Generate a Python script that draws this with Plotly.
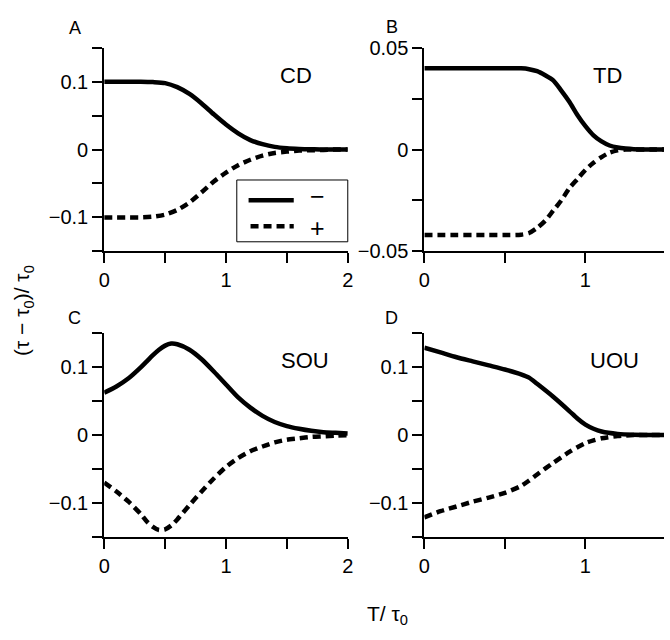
import plotly.graph_objects as go

# ---------------- data ----------------
# Panel A (CD)
x_cd = [0, 0.1, 0.2, 0.3, 0.4, 0.5, 0.6, 0.7, 0.8, 0.9, 1.0, 1.1, 1.2, 1.3, 1.4, 1.5, 1.6, 1.7, 1.8, 1.9, 2.0]
cd_minus = [0.100, 0.100, 0.100, 0.100, 0.0995, 0.098, 0.092, 0.082, 0.068, 0.052, 0.037, 0.024, 0.014,
            0.008, 0.004, 0.002, 0.001, 0.0005, 0.0, 0.0, 0.0]
cd_plus = [-0.100, -0.100, -0.100, -0.100, -0.099, -0.096, -0.089, -0.078, -0.063, -0.047, -0.034, -0.023,
           -0.015, -0.009, -0.005, -0.003, -0.0015, -0.001, -0.0005, 0.0, 0.0]

# Panel B (TD)
x_td = [0, 0.1, 0.2, 0.3, 0.4, 0.5, 0.6, 0.65, 0.7, 0.75, 0.8, 0.85, 0.9, 0.95, 1.0, 1.05, 1.1, 1.15,
        1.2, 1.25, 1.3, 1.4, 1.49]
td_minus = [0.040, 0.040, 0.040, 0.040, 0.040, 0.040, 0.0399, 0.0395, 0.0385, 0.0365, 0.034, 0.029, 0.0235,
            0.017, 0.0115, 0.007, 0.004, 0.002, 0.001, 0.0005, 0.0002, 0.0, 0.0]
td_plus = [-0.042, -0.042, -0.042, -0.042, -0.042, -0.042, -0.0418, -0.041, -0.0385, -0.035, -0.030, -0.025,
           -0.019, -0.0145, -0.010, -0.0065, -0.0037, -0.0015, -0.0004, 0.0, 0.0, 0.0, 0.0]

# Panel C (SOU)
x_sou = [0, 0.1, 0.2, 0.3, 0.35, 0.4, 0.45, 0.5, 0.55, 0.6, 0.7, 0.8, 0.9, 1.0, 1.1, 1.2, 1.3, 1.4, 1.5,
         1.6, 1.7, 1.8, 1.9, 2.0]
sou_minus = [0.062, 0.071, 0.083, 0.099, 0.108, 0.117, 0.125, 0.131, 0.134, 0.133, 0.125, 0.111, 0.093,
             0.074, 0.055, 0.040, 0.028, 0.019, 0.013, 0.009, 0.006, 0.004, 0.003, 0.002]
sou_plus = [-0.070, -0.083, -0.098, -0.116, -0.127, -0.135, -0.1395, -0.1385, -0.133, -0.124, -0.103,
            -0.083, -0.064, -0.047, -0.034, -0.024, -0.017, -0.011, -0.007, -0.005, -0.003, -0.002,
            -0.001, -0.0005]

# Panel D (UOU)
x_uou = [0, 0.1, 0.2, 0.3, 0.4, 0.5, 0.6, 0.65, 0.7, 0.8, 0.9, 0.95, 1.0, 1.05, 1.1, 1.2, 1.3, 1.4, 1.49]
uou_minus = [0.128, 0.121, 0.114, 0.108, 0.102, 0.096, 0.089, 0.084, 0.075, 0.056, 0.035, 0.024, 0.015,
             0.009, 0.005, 0.0015, 0.0003, 0.0, 0.0]
uou_plus = [-0.121, -0.112, -0.105, -0.098, -0.092, -0.085, -0.075, -0.067, -0.058, -0.041, -0.025, -0.018,
            -0.012, -0.008, -0.005, -0.0015, -0.0003, 0.0, 0.0]

panel_names = ["CD", "TD", "SOU", "UOU"]
panel_letters = ["A", "B", "C", "D"]
legend_names = ["\u2212", "+"]

# ticks (labelled majors, unlabelled minors)
xt_long_major = [0, 1, 2]
xt_long_minor = [0.5, 1.5]
xt_short_major = [0, 1]
xt_short_minor = [0.5]
yt_big_major = [-0.1, 0, 0.1]
yt_big_text = ["\u22120.1", "0", "0.1"]
yt_big_minor = [-0.15, -0.05, 0.05, 0.15]
yt_small_major = [-0.05, 0, 0.05]
yt_small_text = ["\u22120.05", "0", "0.05"]
yt_small_minor = [-0.025, 0.025]

# ---------------- figure ----------------
FONT = "Liberation Sans, Arial, Helvetica, sans-serif"
W, H = 670, 640
LW = 4.5
DASH = "8px,5px"

fig = go.Figure()

series = [
    (x_cd, cd_minus, cd_plus, "x", "y"),
    (x_td, td_minus, td_plus, "x2", "y2"),
    (x_sou, sou_minus, sou_plus, "x3", "y3"),
    (x_uou, uou_minus, uou_plus, "x4", "y4"),
]
for i, (xs, ym, yp, xa, ya) in enumerate(series):
    fig.add_trace(go.Scatter(x=xs, y=ym, mode="lines", xaxis=xa, yaxis=ya,
                             line=dict(color="black", width=LW, shape="spline", smoothing=0.7),
                             name=legend_names[0], showlegend=False))
    fig.add_trace(go.Scatter(x=xs, y=yp, mode="lines", xaxis=xa, yaxis=ya,
                             line=dict(color="black", width=LW, dash=DASH, shape="spline", smoothing=0.7),
                             name=legend_names[1], showlegend=False))

axis_common = dict(showline=True, linecolor="black", linewidth=2, ticks="outside", ticklen=10,
                   tickwidth=2, tickcolor="black", showgrid=False, zeroline=False,
                   tickfont=dict(family=FONT, size=20, color="black"), fixedrange=True)


def minor(vals):
    return dict(tickmode="array", tickvals=vals, ticks="outside", ticklen=10, tickwidth=2,
                tickcolor="black", showgrid=False)


xdomA = [100 / W, 348 / W]
xdomB = [426 / W, 1.0]
ydomTop = [1 - 249 / H, 1 - 38 / H]
ydomBot = [1 - 545 / H, 1 - 333 / H]
xrange_long = [0, 2]
xrange_short = [0, 244 / 164]
yrange_big = [-0.1502, 0.1502]
yrange_small = [-0.05005, 0.05005]

fig.update_layout(
    width=W, height=H,
    margin=dict(l=0, r=0, t=0, b=0),
    paper_bgcolor="white", plot_bgcolor="white",
    font=dict(family=FONT, color="black"),
    showlegend=False,
    xaxis=dict(domain=xdomA, anchor="y", range=xrange_long, tickmode="array",
               tickvals=xt_long_major, minor=minor(xt_long_minor), **axis_common),
    yaxis=dict(domain=ydomTop, anchor="x", range=yrange_big, tickmode="array",
               tickvals=yt_big_major, ticktext=yt_big_text, minor=minor(yt_big_minor), **axis_common),
    xaxis2=dict(domain=xdomB, anchor="y2", range=xrange_short, tickmode="array",
                tickvals=xt_short_major, minor=minor(xt_short_minor), **axis_common),
    yaxis2=dict(domain=ydomTop, anchor="x2", range=yrange_small, tickmode="array",
                tickvals=yt_small_major, ticktext=yt_small_text, minor=minor(yt_small_minor), **axis_common),
    xaxis3=dict(domain=xdomA, anchor="y3", range=xrange_long, tickmode="array",
                tickvals=xt_long_major, minor=minor(xt_long_minor), **axis_common),
    yaxis3=dict(domain=ydomBot, anchor="x3", range=yrange_big, tickmode="array",
                tickvals=yt_big_major, ticktext=yt_big_text, minor=minor(yt_big_minor), **axis_common),
    xaxis4=dict(domain=xdomB, anchor="y4", range=xrange_short, tickmode="array",
                tickvals=xt_short_major, minor=minor(xt_short_minor), **axis_common),
    yaxis4=dict(domain=ydomBot, anchor="x4", range=yrange_big, tickmode="array",
                tickvals=yt_big_major, ticktext=yt_big_text, minor=minor(yt_big_minor), **axis_common),
)


def px(x):
    return x / W


def py(y):
    return 1 - y / H


# ---- legend box (inside panel A) ----
fig.add_shape(type="rect", xref="paper", yref="paper", x0=px(235), x1=px(348), y0=py(175), y1=py(239),
              line=dict(color="black", width=1), fillcolor="white", layer="above")
fig.add_shape(type="line", xref="paper", yref="paper", x0=px(247), x1=px(293), y0=py(196), y1=py(196),
              line=dict(color="black", width=LW), layer="above")
fig.add_shape(type="line", xref="paper", yref="paper", x0=px(249), x1=px(293), y0=py(223), y1=py(223),
              line=dict(color="black", width=LW, dash=DASH), layer="above")
fig.add_annotation(x=px(317), y=py(192), xref="paper", yref="paper", text=legend_names[0],
                   showarrow=False, xanchor="center", yanchor="middle", borderpad=0,
                   font=dict(family=FONT, size=25, color="black"))
fig.add_annotation(x=px(317), y=py(225), xref="paper", yref="paper", text=legend_names[1],
                   showarrow=False, xanchor="center", yanchor="middle", borderpad=0,
                   font=dict(family=FONT, size=25, color="black"))

# panel letters and names
letter_pos = [(70, 18), (393, 17), (70, 318), (393, 318)]
name_pos = [(295, 67), (612, 67), (304, 362), (620, 362)]
for (lx, ly), let in zip(letter_pos, panel_letters):
    fig.add_annotation(x=px(lx), y=py(ly), xref="paper", yref="paper", text=let,
                       showarrow=False, xanchor="center", yanchor="middle",
                       font=dict(family=FONT, size=18, color="black"))
for (nx, ny), nm in zip(name_pos, panel_names):
    fig.add_annotation(x=px(nx), y=py(ny), xref="paper", yref="paper", text=nm,
                       showarrow=False, xanchor="center", yanchor="middle",
                       font=dict(family=FONT, size=22, color="black"))

# axis titles
fig.add_annotation(x=px(18), y=py(310), xref="paper", yref="paper",
                   text="(\u03c4 \u2212 \u03c4<sub>0</sub>)/ \u03c4<sub>0</sub>", textangle=-90,
                   showarrow=False, xanchor="center", yanchor="middle",
                   font=dict(family=FONT, size=21, color="black"))
fig.add_annotation(x=px(388), y=py(626), xref="paper", yref="paper",
                   text="T/ \u03c4<sub>0</sub>", showarrow=False, xanchor="center", yanchor="middle",
                   font=dict(family=FONT, size=21, color="black"))

fig.write_html("out.html", config={"displayModeBar": False},
               post_script="document.body.style.margin='0';document.body.style.overflow='hidden';")
